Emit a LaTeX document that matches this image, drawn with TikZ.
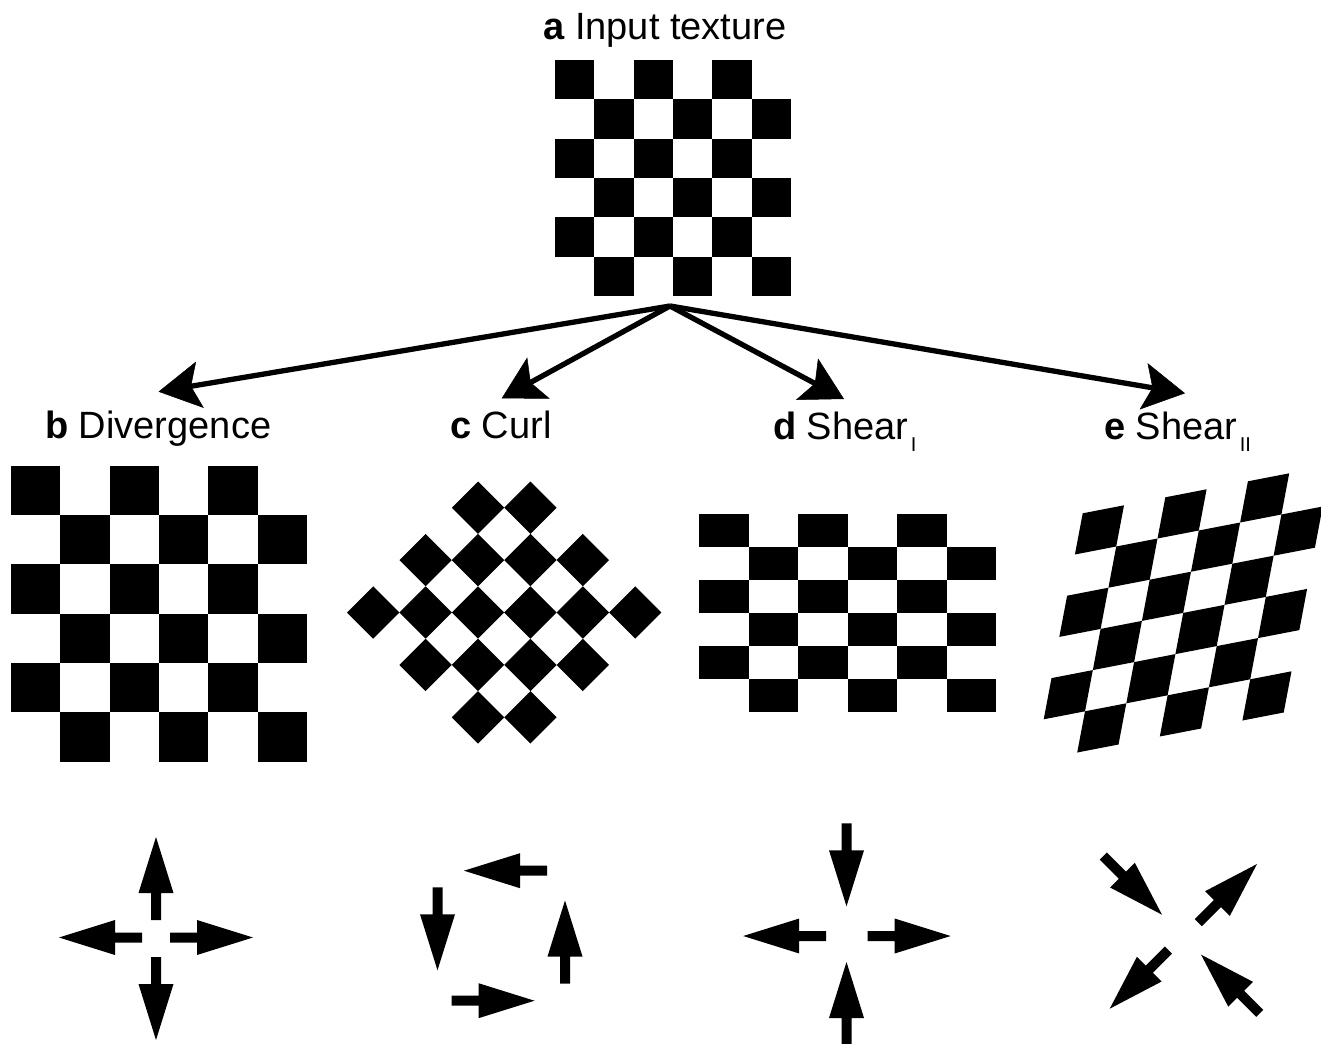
\documentclass[tikz,border=0pt]{standalone}
\usepackage{fontspec}
\setmainfont{Liberation Sans}
\usetikzlibrary{arrows.meta}

% square/rectangular checkerboard: x0, y0, cell width, cell height
\newcommand\drawchecker[4]{%
  \foreach \r in {0,...,5}{\foreach \c in {0,...,5}{%
    \pgfmathtruncatemacro\cpar{mod(\r+\c,2)}%
    \ifnum\cpar=0
      \fill ({#1+\c*#3},{#2+\r*#4}) rectangle ++(#3,#4);
    \fi}}}

\tikzset{
  lbl/.style={font=\fontsize{38}{45}\selectfont, anchor=base west, inner sep=0pt},
  conn/.style={line width=5.3pt,
    -{Stealth[length=42pt,width=47pt,inset=9pt,line width=0.5pt]}},
  blockarrow/.pic={\fill (0,-5) -- (27,-5) -- (27,-17.5) -- (83,0)
                     -- (27,17.5) -- (27,5) -- (0,5) -- cycle;},
}
\newcommand\subsc[1]{\kern2.5pt\raisebox{-12pt}{\fontsize{20}{20}\selectfont #1}}

\begin{document}
\begin{tikzpicture}[x=1pt,y=-1pt]
\useasboundingbox (0,0) rectangle (1321,1043);

% ---- titles
\node[lbl] (la) at (543,40)  {\textbf{a} Input texture};
\node[lbl] (lb) at (45,438)  {\textbf{b} Divergence};
\node[lbl] (lc) at (450,438) {\textbf{c} Curl};
\node[lbl] (ld) at (773,439) {\textbf{d} Shear\subsc{I}};
\node[lbl] (le) at (1104,439) {\textbf{e} Shear\subsc{II}};

% ---- input texture
\drawchecker{555}{60}{39.33}{39.33}

% ---- connectors
\coordinate (apex) at (670,306);
\coordinate (tb) at (158.5,391.7);
\coordinate (tc) at (501.7,398.3);
\coordinate (td) at (844,399);
\coordinate (te) at (1185,393.3);
\draw[conn] (apex) -- (tb);
\draw[conn] (apex) -- (tc);
\draw[conn] (apex) -- (td);
\draw[conn] (apex) -- (te);

% ---- divergence: enlarged texture
\drawchecker{11}{465.7}{49.33}{49.33}

% ---- curl: texture turned by 45 degrees
\foreach \i in {0,...,5}{\foreach \j in {0,...,5}{%
  \pgfmathtruncatemacro\cpar{mod(\i+\j,2)}%
  \ifnum\cpar=1
    \pgfmathsetmacro\cx{504.2+(\i-\j)*26.2}%
    \pgfmathsetmacro\cy{612.5+(\i+\j-5)*26.2}%
    \fill (\cx-26.2,\cy) -- (\cx,\cy-26.2) -- (\cx+26.2,\cy) -- (\cx,\cy+26.2) -- cycle;
  \fi}}

% ---- shear I: stretched sideways, squeezed vertically
\drawchecker{699.3}{514.3}{49.45}{32.9}

% ---- shear II: skewed cells
\foreach \i in {0,...,5}{\foreach \j in {0,...,5}{%
  \pgfmathtruncatemacro\cpar{mod(\i+\j,2)}%
  \ifnum\cpar=0
    \pgfmathsetmacro\px{1082.7+\j*41.3-\i*7.8}%
    \pgfmathsetmacro\py{513.3-\j*8+\i*41.2}%
    \fill (\px,\py) -- ++(41.3,-8) -- ++(-7.8,41.2) -- ++(-41.3,8) -- cycle;
  \fi}}

% ---- flow glyphs
% divergence
\pic[rotate=90]  at (156,920)   {blockarrow};
\pic[rotate=180] at (142,937.5) {blockarrow};
\pic             at (170,937.5) {blockarrow};
\pic[rotate=-90] at (156,957)   {blockarrow};
% curl
\pic[rotate=180] at (547,870.7)   {blockarrow};
\pic[rotate=-90] at (437.5,887.3) {blockarrow};
\pic[rotate=90]  at (565,983.5)   {blockarrow};
\pic             at (451.5,1000.7){blockarrow};
% shear I
\pic[rotate=-90] at (846.5,823.3) {blockarrow};
\pic[rotate=180] at (826.2,936)   {blockarrow};
\pic             at (867.6,936)   {blockarrow};
\pic[rotate=90]  at (846.5,1045)  {blockarrow};
% shear II
\pic[rotate=-45]  at (1103.3,856)    {blockarrow};
\pic[rotate=45]   at (1198.3,922.7)  {blockarrow};
\pic[rotate=-135] at (1168.4,950)    {blockarrow};
\pic[rotate=135]  at (1259.7,1013.3) {blockarrow};
\end{tikzpicture}
\end{document}
